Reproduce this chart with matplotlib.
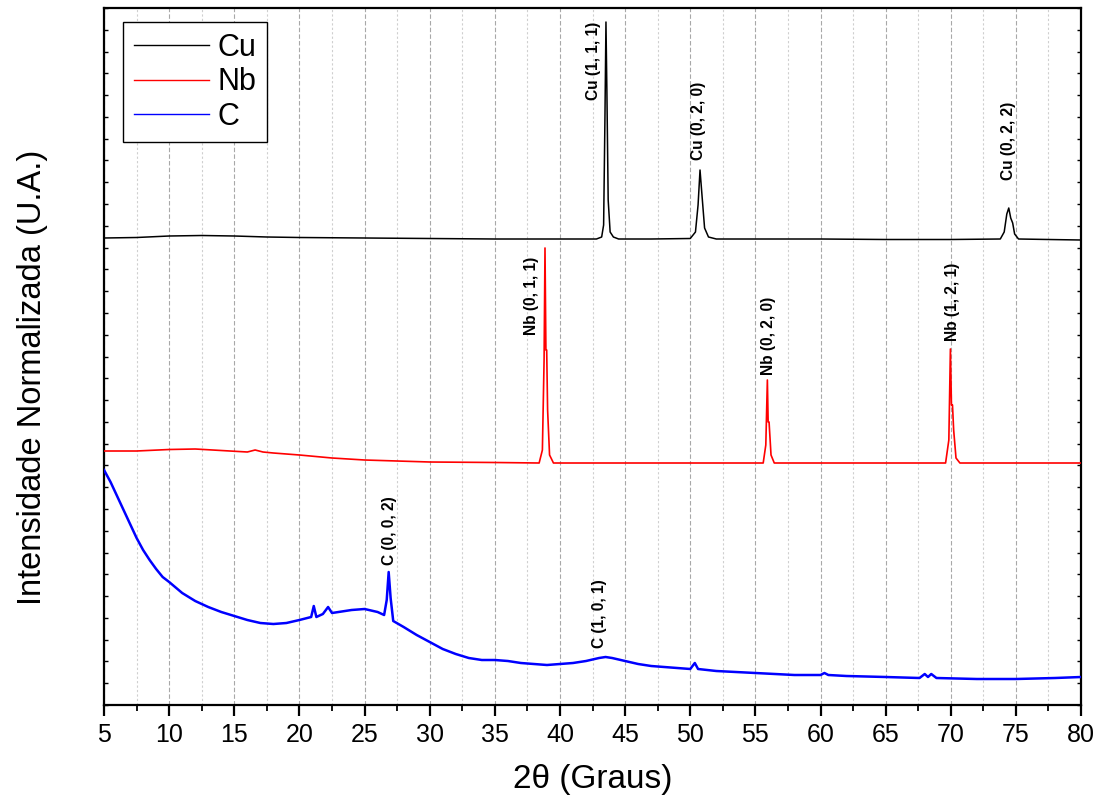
import matplotlib
matplotlib.use("Agg")
import matplotlib.pyplot as plt
from matplotlib.ticker import MultipleLocator

plt.rcParams['font.family'] = ['Liberation Sans', 'DejaVu Sans']

# ---------------- data (2theta in degrees, intensity in arbitrary units) ----------------
tt_cu = [5, 7.5, 10, 12.5, 15, 17.5, 20, 25, 30, 35, 40, 42.8, 43.2, 43.35, 43.45, 43.53,
         43.6, 43.7, 43.85, 44.1, 44.5, 47, 50.0, 50.4, 50.6, 50.75, 50.9, 51.1, 51.4, 52,
         55, 60, 65, 70, 73.8, 74.1, 74.3, 74.45, 74.6, 74.75, 74.9, 75.2, 77.5, 80]
int_cu = [467, 467.5, 469, 469.5, 469, 468, 467.5, 467, 466.5, 466, 466, 466, 468, 480, 585, 683,
          615, 505, 473, 468, 466, 466, 466.5, 473, 500, 535, 510, 477, 468, 466,
          466, 466, 465.5, 465.5, 466, 473, 491, 497, 487, 482, 471, 466, 465.5, 465]

tt_nb = [5, 7.5, 10, 12, 14, 16, 16.6, 17.2, 18, 20, 22.5, 25, 27.5, 30, 35, 38.4, 38.65,
         38.78, 38.85, 38.92, 38.98, 39.05, 39.2, 39.5, 45, 50, 55.6, 55.8, 55.92, 55.98,
         56.05, 56.2, 56.45, 60, 65, 69.6, 69.85, 69.97, 70.05, 70.13, 70.22, 70.4, 70.7, 75, 80]
int_nb = [254, 254, 255.5, 256, 254.5, 253, 255, 253, 252, 250, 247, 245, 244, 243, 242.5, 242, 255,
          345, 457, 355, 355, 295, 250, 242, 242, 242, 242, 260, 325, 283,
          283, 250, 242, 242, 242, 242, 265, 356, 300, 300, 275, 247, 242, 242, 242]

tt_c = [5.0, 5.5, 6.0, 6.5, 7.0, 7.5, 8.0, 8.5, 9.0, 9.5, 10.0, 11.0, 12.0, 13.0, 14.0, 15.0,
        16.0, 17.0, 18.0, 19.0, 20.0, 20.9, 21.1, 21.3, 21.8, 22.2, 22.5, 23.0, 24.0, 25.0,
        26.0, 26.5, 26.7, 26.85, 27.0, 27.2, 28.0, 29.0, 30.0, 31.0, 32.0, 33.0, 34.0, 35.0,
        36.0, 37.0, 38.0, 39.0, 40.0, 41.0, 42.0, 43.0, 43.5, 44.0, 45.0, 46.0, 47.0, 48.0,
        49.0, 50.0, 50.35, 50.6, 52.0, 55.0, 58.0, 60.0, 60.3, 60.6, 62.0, 65.0, 67.6, 68.0,
        68.25, 68.5, 68.9, 72.0, 75.0, 78.0, 80.0]
int_c = [235, 223, 209, 195, 181, 167, 155, 145, 136, 128, 123, 112, 104, 98, 93, 89,
         85, 82, 81, 82, 85, 88, 99, 88, 91, 98, 92, 93, 95, 96,
         93, 90, 105, 133, 107, 84, 78, 70, 63, 56, 51, 47, 45, 45,
         44, 42, 41, 40, 41, 42, 44, 47, 48, 47, 44, 41, 39, 38,
         37, 36, 42, 36, 34, 32, 30, 30, 32, 30, 29, 28, 27, 31,
         28, 31, 27, 26, 26, 27, 28]

series_names = ['Cu', 'Nb', 'C']
series_colors = ['black', '#ff0000', '#0000ff']

peak_labels = ['Cu (1, 1, 1)', 'Cu (0, 2, 0)', 'Cu (0, 2, 2)',
               'Nb (0, 1, 1)', 'Nb (0, 2, 0)', 'Nb (1, 2, 1)',
               'C (0, 0, 2)', 'C (1, 0, 1)']
xticks_major = [5, 10, 15, 20, 25, 30, 35, 40, 45, 50, 55, 60, 65, 70, 75, 80]

# label anchor positions (2theta, intensity of label bottom)
label_pos = [(42.55, 605), (50.6, 545), (74.4, 525),
             (37.85, 370), (55.97, 330), (70.1, 364),
             (26.95, 140), (43.07, 57)]

# ---------------- figure ----------------
fig = plt.figure(figsize=(11.02, 8.09), dpi=100)
ax = fig.add_axes([0.0944, 0.12855, 0.8866, 0.86156])

lines = []
for tt, iy, name, col, lw in [(tt_cu, int_cu, 'Cu', series_colors[0], 1.1),
                              (tt_nb, int_nb, 'Nb', series_colors[1], 1.2),
                              (tt_c, int_c, 'C', series_colors[2], 1.8)]:
    ln, = ax.plot(tt, iy, color=col, lw=lw, label=name, zorder=3)
    lines.append(ln)

for txt, (xx, yy) in zip(peak_labels, label_pos):
    ax.text(xx, yy, txt, rotation=90, ha='center', va='bottom', fontsize=11.2,
            fontweight='bold', color='black', zorder=4)

ax.set_xlim(5, 80)
ax.set_ylim(0, 697)
ax.set_xticks(xticks_major)
ax.xaxis.set_minor_locator(MultipleLocator(2.5))
ax.yaxis.set_major_locator(MultipleLocator(697 / 32))
ax.set_yticklabels([])

ax.grid(which='major', axis='x', color='#a8a8a8', ls=(0, (4, 2)), lw=0.8, zorder=0)
ax.grid(which='minor', axis='x', color='#cfcfcf', ls=(0, (2, 2)), lw=0.8, zorder=0)

ax.tick_params(axis='x', which='major', direction='out', length=8, width=1.6,
               labelsize=18, pad=5, top=False)
ax.tick_params(axis='x', which='minor', direction='out', length=4.5, width=1.3, top=False)
ax.tick_params(axis='y', which='major', direction='in', length=3, width=1.0,
               left=True, right=True, labelleft=False)

for sp in ax.spines.values():
    sp.set_linewidth(1.6)

ax.set_xlabel('2θ (Graus)', fontsize=24, labelpad=12)
ax.set_ylabel('Intensidade Normalizada (U.A.)', fontsize=23.5)
ax.yaxis.set_label_coords(-0.057, 0.47)

leg = ax.legend(handles=lines, labels=series_names, loc='upper left',
                bbox_to_anchor=(0.0194, 0.98), borderaxespad=0, fontsize=22,
                frameon=True, fancybox=False, edgecolor='black', framealpha=1,
                handlelength=2.45, handletextpad=0.3, labelspacing=0.15,
                borderpad=0.35)
leg.get_frame().set_linewidth(1.0)
for h in leg.legend_handles:
    h.set_linewidth(1.0)

fig.savefig('out.png', dpi=100)
